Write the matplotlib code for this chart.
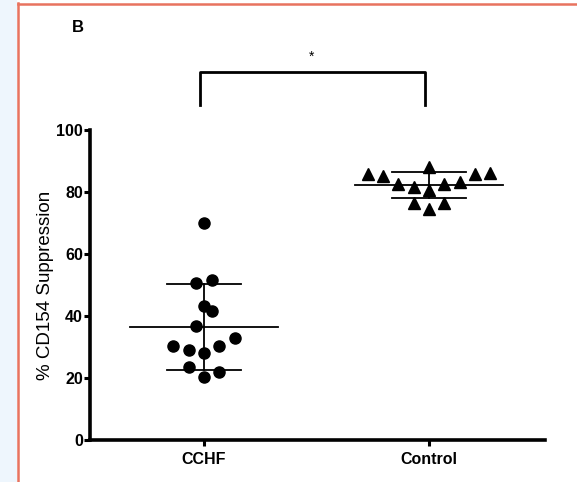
import numpy as np
import matplotlib.pyplot as plt
from matplotlib.patches import Rectangle
from matplotlib.lines import Line2D

plt.rcParams['font.family'] = ['Liberation Sans', 'DejaVu Sans']

groups = ["CCHF", "Control"]

# % CD154 suppression per subject
cchf = [70.0, 50.5, 51.6, 43.2, 41.6, 36.8, 32.8, 30.4, 29.0, 30.4, 28.0, 23.7, 22.0, 20.4]
cchf_jitter = [0, -0.5, 0.5, 0, 0.5, -0.5, 2, -2, -1, 1, 0, -1, 1, 0]
control = [85.9, 85.3, 88.0, 85.9, 86.2, 82.7, 81.6, 82.7, 83.2, 80.5, 76.5, 76.5, 74.4]
control_jitter = [-4, -3, 0, 3, 4, -2, -1, 1, 2, 0, -1, 1, 0]

fig = plt.figure(figsize=(5.77, 4.82), dpi=100)

# page background and frame
fig.patches.append(Rectangle((0, 0), 17 / 577, 1, transform=fig.transFigure,
                             facecolor="#eef6fd", edgecolor="none", zorder=0))
fig.add_artist(Line2D([17.5 / 577, 17.5 / 577], [0, 1 - 3 / 482], color="#e8735f", lw=1.8))
fig.add_artist(Line2D([17.5 / 577, 1], [1 - 3.5 / 482, 1 - 3.5 / 482], color="#e8735f", lw=1.8))

ax = fig.add_axes([90 / 577, 1 - 440 / 482, 455 / 577, 310 / 482])

step = 0.068
for i, (vals, jit, mk, ms) in enumerate([(cchf, cchf_jitter, "o", 8),
                                        (control, control_jitter, "^", 8)]):
    xc = i + 1
    xs = xc + np.array(jit) * step
    ax.plot(xs, vals, linestyle="none", marker=mk, ms=ms, color="black", clip_on=False, zorder=3)
    m = np.mean(vals)
    sd = np.std(vals, ddof=1)
    ax.plot([xc - 0.33, xc + 0.33], [m, m], color="black", lw=1.3, zorder=2)
    ax.plot([xc - 0.165, xc + 0.165], [m + sd, m + sd], color="black", lw=1.3, zorder=2)
    ax.plot([xc - 0.165, xc + 0.165], [m - sd, m - sd], color="black", lw=1.3, zorder=2)
    ax.plot([xc, xc], [m - sd, m + sd], color="black", lw=1.3, zorder=2)

ax.set_xlim(0.493, 2.516)
ax.set_ylim(0, 100)
ax.set_yticks([0, 20, 40, 60, 80, 100])
ax.set_xticks([1, 2])
ax.set_xticklabels(groups, fontweight="bold", fontsize=11.5)
for lab in ax.get_yticklabels():
    lab.set_fontweight("bold")
    lab.set_fontsize(11.5)
ax.tick_params(width=2.2, length=4)
ax.tick_params(axis="y", pad=1)
ax.tick_params(axis="x", pad=5)
for s in ["top", "right"]:
    ax.spines[s].set_visible(False)
for s in ["left", "bottom"]:
    ax.spines[s].set_linewidth(2.6)
ax.set_ylabel("% CD154 Suppression", fontsize=13.5, labelpad=2)

# significance bracket
ax.plot([0.982, 0.982, 1.982, 1.982], [108, 118.7, 118.7, 108], color="black", lw=2, clip_on=False)
ax.text(1.48, 123.5, "*", ha="center", va="center", fontsize=10)

fig.text(78 / 577, 1 - 28 / 482, "B", ha="center", va="center", fontsize=12, fontweight="bold")

fig.savefig("out.png", dpi=100)
